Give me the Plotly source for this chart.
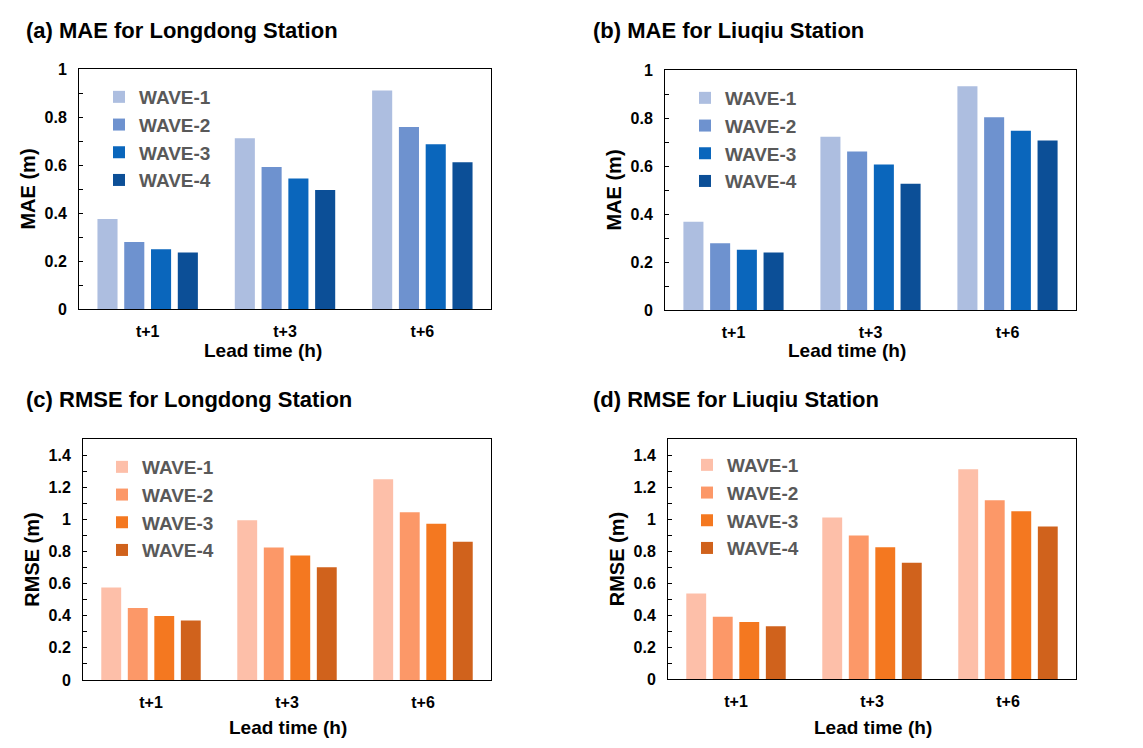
import plotly.graph_objects as go

# data
lead = ["t+1", "t+3", "t+6"]
waves = ["WAVE-1", "WAVE-2", "WAVE-3", "WAVE-4"]

mae_longdong = [
    [0.375, 0.711, 0.910],
    [0.279, 0.592, 0.758],
    [0.249, 0.544, 0.686],
    [0.235, 0.496, 0.611],
]
mae_liuqiu = [
    [0.368, 0.722, 0.932],
    [0.278, 0.660, 0.803],
    [0.251, 0.606, 0.747],
    [0.240, 0.526, 0.706],
]
rmse_longdong = [
    [0.575, 0.994, 1.250],
    [0.448, 0.825, 1.044],
    [0.398, 0.775, 0.973],
    [0.371, 0.702, 0.860],
]
rmse_liuqiu = [
    [0.535, 1.009, 1.311],
    [0.389, 0.897, 1.117],
    [0.356, 0.824, 1.048],
    [0.329, 0.726, 0.953],
]

blues = ["#adbee0", "#6e92cf", "#0a66bc", "#0c4f97"]
oranges = ["#fdbfa9", "#fc9868", "#f47820", "#d0621c"]

# page has an 8px body margin, so the figure is shrunk and shifted to fit
OFF = 8
W, H = 1143 - 2 * OFF, 748 - 2 * OFF
FONT = "Liberation Sans"

def px(x):
    return (x - OFF) / W

def py(y):
    return 1 - (y - OFF) / H

def xd(a, b):
    return [px(a), px(b)]

def yd(top, bottom):
    return [py(bottom), py(top)]

panels = [
    # title, data, colors, ytitle, ymax, x domain, y domain, title pos, xtitle pos, legend pos
    ("(a) MAE for Longdong Station", mae_longdong, blues, "MAE (m)", 1.0,
     xd(79, 491), yd(69, 309), (24, 30), (263, 350), (99, 78)),
    ("(b) MAE for Liuqiu Station", mae_liuqiu, blues, "MAE (m)", 1.0,
     xd(665, 1076), yd(70, 310), (591, 30), (847, 350), (685, 79)),
    ("(c) RMSE for Longdong Station", rmse_longdong, oranges, "RMSE (m)", 1.5,
     xd(83, 491), yd(439, 680), (24, 399), (288, 727), (102, 448)),
    ("(d) RMSE for Liuqiu Station", rmse_liuqiu, oranges, "RMSE (m)", 1.5,
     xd(668, 1076), yd(439, 679), (591, 399), (873, 727), (687, 446)),
]

fig = go.Figure()
annotations = []
layout = {}

for i, (title, vals, cols, ytitle, ymax, xdom, ydom, tpos, xtpos, lpos) in enumerate(panels):
    n = "" if i == 0 else str(i + 1)
    leg = "legend" + n
    for j, w in enumerate(waves):
        fig.add_trace(go.Bar(
            x=lead, y=vals[j], name=w, marker_color=cols[j],
            marker_line_width=0, xaxis="x" + n, yaxis="y" + n,
            legend=leg, legendgroup=leg + w,
        ))
    layout["xaxis" + n] = dict(
        domain=xdom, anchor="y" + n, automargin=False, showline=True, mirror=True,
        linecolor="black", linewidth=1, ticks="", ticklabelstandoff=8,
        tickfont=dict(family=FONT, size=16, color="black", weight="bold"),
    )
    layout["yaxis" + n] = dict(
        domain=ydom, anchor="x" + n, automargin=False, range=[0, ymax], dtick=0.2,
        showline=True, mirror=True, linecolor="black", linewidth=1,
        showgrid=False, zeroline=False, ticks="inside", ticklen=4,
        tickcolor="black", ticklabelstandoff=8,
        minor=dict(dtick=0.1, ticks="inside", ticklen=4, tickcolor="black"),
        tickfont=dict(family=FONT, size=16, color="black", weight="bold"),
        title=dict(text=ytitle, standoff=3,
                   font=dict(family=FONT, size=20, color="black", weight="bold")),
    )
    layout[leg] = dict(
        x=px(lpos[0]), y=py(lpos[1]), xanchor="left", yanchor="top",
        bgcolor="rgba(0,0,0,0)", tracegroupgap=0, itemwidth=30,
        font=dict(family=FONT, size=19, color="#595959", weight="bold"),
    )
    annotations.append(dict(
        text=title, x=px(tpos[0]), y=py(tpos[1]), xref="paper", yref="paper",
        xanchor="left", yanchor="middle", showarrow=False,
        font=dict(family=FONT, size=22, color="black", weight="bold"),
    ))
    annotations.append(dict(
        text="Lead time (h)", x=px(xtpos[0]), y=py(xtpos[1]),
        xref="paper", yref="paper", xanchor="center", yanchor="middle",
        showarrow=False,
        font=dict(family=FONT, size=19, color="black", weight="bold"),
    ))

fig.update_layout(
    width=W, height=H, margin=dict(l=0, r=0, t=0, b=0),
    paper_bgcolor="white", plot_bgcolor="white",
    barmode="group", bargap=0.22, bargroupgap=0.25,
    annotations=annotations, **layout,
)

fig.write_html("out.html")
